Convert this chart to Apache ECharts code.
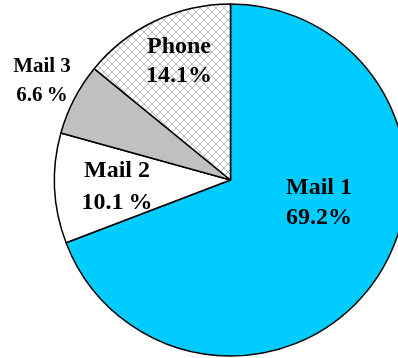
<!DOCTYPE html>
<html>
<head>
<meta charset="utf-8">
<script src="https://cdn.jsdelivr.net/npm/echarts@6/dist/echarts.min.js"></script>
<style>
  html, body { margin: 0; padding: 0; background: #fff; }
  #chart { width: 398px; height: 358px; }
</style>
</head>
<body>
<div id="chart"></div>
<script>
// Response channel shares (percent), drawn clockwise from 12 o'clock
const categories = ['Mail 1', 'Mail 2', 'Mail 3', 'Phone'];
const shares = [69.2, 10.1, 6.6, 14.1];
// Spacing between the number and the percent sign in each label
const pctGap = ['', '\u2009', '\u2009', ''];

// Fine crosshatch tile for the Phone slice
function hatchTile() {
  const c = document.createElement('canvas');
  c.width = 8; c.height = 8;
  const g = c.getContext('2d');
  g.fillStyle = '#ffffff';
  g.fillRect(0, 0, 8, 8);
  g.strokeStyle = '#bdbdbd';
  g.lineWidth = 1;
  g.beginPath();
  g.moveTo(0, 0); g.lineTo(8, 8);
  g.moveTo(8, 0); g.lineTo(0, 8);
  g.stroke();
  return c;
}

const fills = ['#00ccff', '#ffffff', '#c0c0c0', { image: hatchTile(), repeat: 'repeat' }];

// Label anchor points (px) and type sizes per slice
const labelSpots = [
  { x: 319, y: 203, size: 24, lh: 30 },
  { x: 117, y: 187, size: 24, lh: 32 },
  { x: 42,  y: 81,  size: 21, lh: 29 },
  { x: 179, y: 61,  size: 24, lh: 29 }
];

const chart = echarts.init(document.getElementById('chart'), null, { renderer: 'canvas' });

chart.setOption({
  animation: false,
  series: [{
    type: 'pie',
    center: [230.5, 180],
    radius: [0, 176],
    startAngle: 90,
    clockwise: true,
    avoidLabelOverlap: false,
    itemStyle: { borderColor: '#000', borderWidth: 1.5 },
    label: {
      show: true,
      position: 'inside',
      color: '#000',
      fontFamily: 'Liberation Serif, Times New Roman, serif',
      fontWeight: 'bold',
      formatter: p => p.name + '\n' + p.value.toFixed(1) + pctGap[p.dataIndex] + '%'
    },
    labelLine: { show: false },
    emphasis: { disabled: true },
    labelLayout: p => {
      const s = labelSpots[p.dataIndex];
      return { x: s.x, y: s.y, align: 'center', verticalAlign: 'middle' };
    },
    data: categories.map((name, i) => ({
      name,
      value: shares[i],
      itemStyle: { color: fills[i] },
      label: { fontSize: labelSpots[i].size, lineHeight: labelSpots[i].lh }
    }))
  }]
});
</script>
</body>
</html>
